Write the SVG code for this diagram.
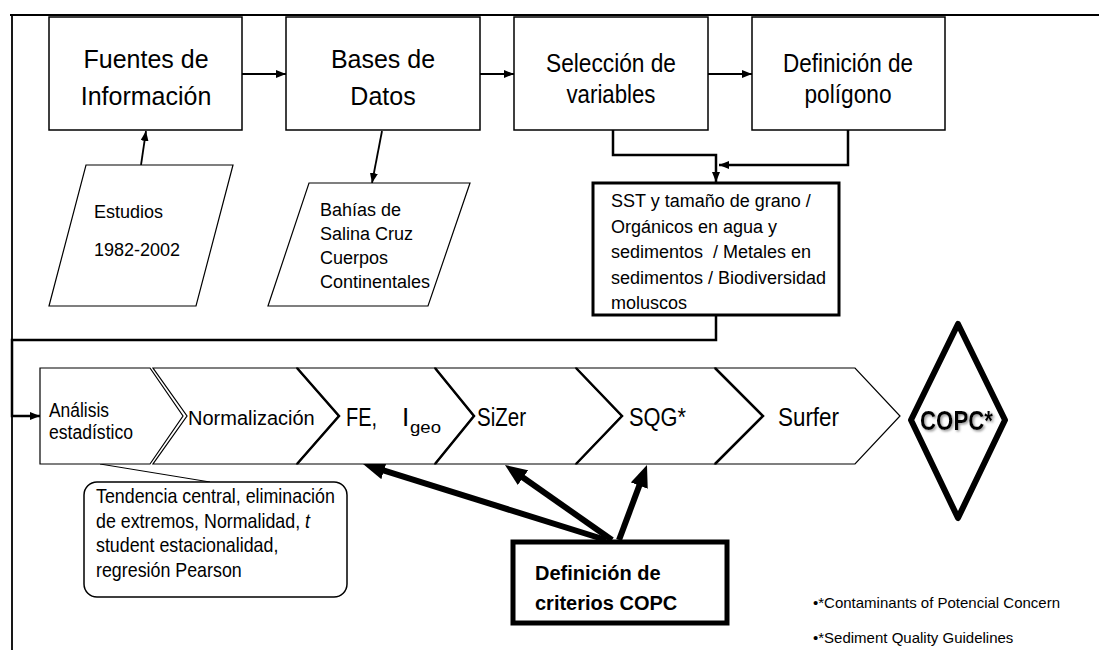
<svg xmlns="http://www.w3.org/2000/svg" width="1099" height="650" viewBox="0 0 1099 650">
<defs>
<style>
text{font-family:"Liberation Sans",Arial,sans-serif;fill:#000}
.box{fill:#fff;stroke:#000;stroke-width:1.5}
.thick{fill:#fff;stroke:#000;stroke-width:3}
.heavy{fill:#fff;stroke:#000;stroke-width:5}
.para{fill:#fff;stroke:#000;stroke-width:1.2}
.chev{fill:#fff;stroke:#000;stroke-width:1.2}
.notch{fill:none;stroke:#000;stroke-width:2.5}
.conn{fill:none;stroke:#000;stroke-width:1.8}
.conn2{fill:none;stroke:#000;stroke-width:2.5}
.thin{fill:none;stroke:#000;stroke-width:1}
.bold{fill:none;stroke:#000;stroke-width:6}
.big{font-size:25px}
.mid{font-size:18px}
.lab{font-size:26px}
.sm{font-size:20px}
.foot{font-size:15px}
</style>
<marker id="ah" markerUnits="userSpaceOnUse" markerWidth="10" markerHeight="8" refX="10" refY="4" orient="auto"><path d="M0,0 L10,4 L0,8 z" fill="#000"/></marker>
<marker id="bh" markerUnits="userSpaceOnUse" markerWidth="22" markerHeight="18" refX="4" refY="9" orient="auto"><path d="M0,0 L22,9 L0,18 z" fill="#000"/></marker>
<filter id="sh" x="-10%" y="-20%" width="130%" height="150%"><feDropShadow dx="1.5" dy="1.5" stdDeviation="0.8" flood-color="#999"/></filter>
</defs>
<rect width="1099" height="650" fill="#fff"/>
<g id="frame" class="conn">
<path d="M10,15 H1099 M12,15 V650"/>
</g>
<g id="connectors">
<line class="conn" x1="242" y1="74" x2="286" y2="74" marker-end="url(#ah)"/>
<line class="conn" x1="480" y1="74" x2="514" y2="74" marker-end="url(#ah)"/>
<line class="conn" x1="708" y1="74" x2="752" y2="74" marker-end="url(#ah)"/>
<line class="conn" x1="141" y1="165" x2="146" y2="131" marker-end="url(#ah)"/>
<line class="conn" x1="382" y1="131" x2="372" y2="183" marker-end="url(#ah)"/>
<polyline class="conn2" points="613,130 613,155 716,155 716,182" marker-end="url(#ah)"/>
<polyline class="conn2" points="848,130 848,165 719,165" marker-end="url(#ah)"/>
<polyline class="conn2" points="716,315 716,340 12,340 12,416 40,416" marker-end="url(#ah)"/>
<line class="thin" x1="100" y1="464" x2="210" y2="482"/>
<line class="bold" x1="606" y1="540" x2="380.2" y2="469.4" marker-end="url(#bh)"/>
<line class="bold" x1="612" y1="540" x2="519.7" y2="475.3" marker-end="url(#bh)"/>
<line class="bold" x1="619" y1="540" x2="640.7" y2="481.9" marker-end="url(#bh)"/>
</g>
<g id="fuentes">
<rect class="box" x="49" y="17" width="193" height="113"/>
<text class="big" x="146" y="68" text-anchor="middle">Fuentes de</text>
<text class="big" x="146" y="105" text-anchor="middle">Información</text>
</g>
<g id="bases">
<rect class="box" x="286" y="17" width="194" height="113"/>
<text class="big" x="383" y="68" text-anchor="middle">Bases de</text>
<text class="big" x="383" y="105" text-anchor="middle">Datos</text>
</g>
<g id="seleccion">
<rect class="box" x="514" y="17" width="194" height="113"/>
<text class="big" x="611" y="72" text-anchor="middle" textLength="130" lengthAdjust="spacingAndGlyphs">Selección de</text>
<text class="big" x="611" y="103" text-anchor="middle" textLength="89" lengthAdjust="spacingAndGlyphs">variables</text>
</g>
<g id="poligono">
<rect class="box" x="752" y="17" width="193" height="113"/>
<text class="big" x="848" y="72" text-anchor="middle" textLength="130" lengthAdjust="spacingAndGlyphs">Definición de</text>
<text class="big" x="848" y="103" text-anchor="middle" textLength="87" lengthAdjust="spacingAndGlyphs">polígono</text>
</g>
<g id="estudios">
<polygon class="para" points="86,165 233,165 196,306 49,306"/>
<text class="mid" x="94" y="218">Estudios</text>
<text class="mid" x="94" y="256">1982-2002</text>
</g>
<g id="bahias">
<polygon class="para" points="309,183 470,183 428,306 268,306"/>
<text class="mid" x="320" y="216">Bahías de</text>
<text class="mid" x="320" y="240">Salina Cruz</text>
<text class="mid" x="320" y="264">Cuerpos</text>
<text class="mid" x="320" y="288">Continentales</text>
</g>
<g id="variables">
<rect class="thick" x="593" y="183" width="246" height="132"/>
<text class="mid" x="611" y="207">SST y tamaño de grano /</text>
<text class="mid" x="611" y="232.5">Orgánicos en agua y</text>
<text class="mid" x="611" y="258" xml:space="preserve">sedimentos  / Metales en</text>
<text class="mid" x="611" y="283.5">sedimentos / Biodiversidad</text>
<text class="mid" x="611" y="309">moluscos</text>
</g>
<g id="analisis">
<polygon class="chev" points="40,368 150,368 183,416 150,464 40,464"/>
<text class="sm" x="49" y="417" textLength="60" lengthAdjust="spacingAndGlyphs">Análisis</text>
<text class="sm" x="49" y="439" textLength="84" lengthAdjust="spacingAndGlyphs">estadístico</text>
</g>
<g id="normalizacion">
<polygon class="chev" points="153,368 297,368 339,416 297,464 153,464 187,416"/>
<text class="sm" x="188" y="425">Normalización</text>
</g>
<g id="fe">
<polygon class="chev" points="297,368 435,368 474,416 435,464 297,464 339,416"/>
<polyline class="notch" points="297,368 339,416 297,464"/>
<text class="lab" x="346" y="426" textLength="31" lengthAdjust="spacingAndGlyphs">FE,</text>
<text class="lab" x="402" y="426">I</text>
<text x="410" y="433" font-size="17" textLength="31" lengthAdjust="spacingAndGlyphs">geo</text>
</g>
<g id="sizer">
<polygon class="chev" points="435,368 576,368 622,416 576,464 435,464 474,416"/>
<polyline class="notch" points="435,368 474,416 435,464"/>
<text class="lab" x="477" y="426" textLength="49" lengthAdjust="spacingAndGlyphs">SiZer</text>
</g>
<g id="sqg">
<polygon class="chev" points="576,368 715,368 763,416 715,464 576,464 622,416"/>
<polyline class="notch" points="576,368 622,416 576,464"/>
<text class="lab" x="629" y="426" textLength="57" lengthAdjust="spacingAndGlyphs">SQG*</text>
</g>
<g id="surfer">
<polygon class="chev" points="715,368 855,368 900,416 855,464 715,464 763,416"/>
<polyline class="notch" points="715,368 763,416 715,464"/>
<text class="lab" x="778" y="426" textLength="61" lengthAdjust="spacingAndGlyphs">Surfer</text>
</g>
<g id="copc">
<polygon points="911,420 958,324 1005,420 958,518" fill="#fff" stroke="#000" stroke-width="6" stroke-linejoin="round"/>
<text x="920" y="430" font-size="28" font-weight="bold" textLength="73" lengthAdjust="spacingAndGlyphs" filter="url(#sh)">COPC*</text>
</g>
<g id="estadistica">
<rect class="box" x="84" y="482" width="263" height="115" rx="13" ry="13"/>
<g transform="translate(96,0) scale(0.85,1)">
<text x="0" y="503" font-size="21">Tendencia central, eliminación</text>
<text x="0" y="528" font-size="21">de extremos, Normalidad, <tspan font-style="italic">t</tspan></text>
<text x="0" y="552" font-size="21">student estacionalidad,</text>
<text x="0" y="577" font-size="21">regresión Pearson</text>
</g>
</g>
<g id="criterios">
<rect class="heavy" x="513" y="542" width="214" height="81"/>
<text x="535" y="580" font-size="20" font-weight="bold">Definición de</text>
<text x="535" y="610" font-size="20" font-weight="bold">criterios COPC</text>
</g>
<g id="notas">
<text class="foot" x="813" y="608">•*Contaminants of Potencial Concern</text>
<text class="foot" x="813" y="643">•*Sediment Quality Guidelines</text>
</g>
</svg>
